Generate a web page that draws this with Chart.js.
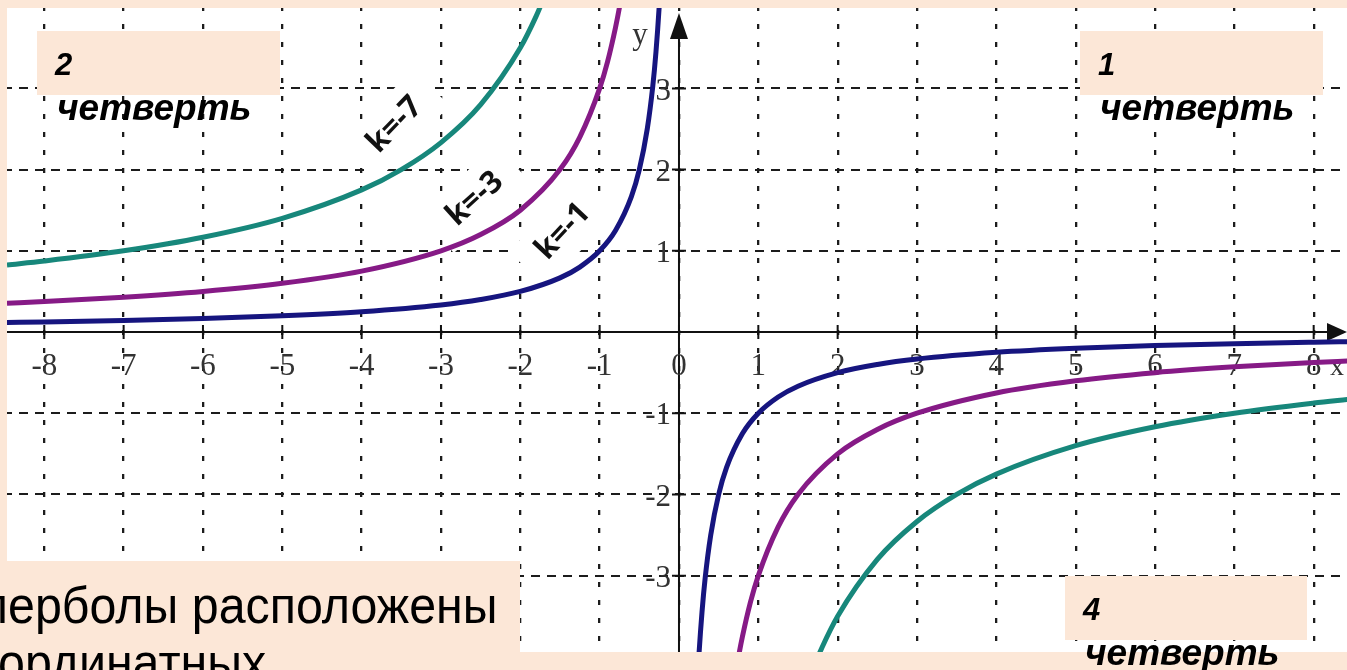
<!DOCTYPE html>
<html>
<head>
<meta charset="utf-8">
<title>y = k/x, k &lt; 0</title>
<script src="https://cdn.jsdelivr.net/npm/chart.js@4.4.0/dist/chart.umd.min.js"></script>
<style>
  html, body { margin: 0; padding: 0; background: #fce7d7; overflow: hidden; }
  canvas { display: block; }
</style>
</head>
<body>
<canvas id="hyperbolas" width="1347" height="670"></canvas>
<script>
// axis ticks
const xTicks = [-8, -7, -6, -5, -4, -3, -2, -1, 0, 1, 2, 3, 4, 5, 6, 7, 8];
const yTicks = [-3, -2, -1, 1, 2, 3];

// k = -1
const k1LeftX  = [-8.47, -8, -7, -6, -5, -4, -3, -2.5, -2, -1.5, -1.25, -1, -0.8, -0.6, -0.5, -0.4, -0.33, -0.29, -0.25, -0.23];
const k1LeftY  = [0.118, 0.125, 0.143, 0.167, 0.2, 0.25, 0.333, 0.4, 0.5, 0.667, 0.8, 1, 1.25, 1.667, 2, 2.5, 3.03, 3.45, 4, 4.35];
const k1RightX = [0.23, 0.25, 0.29, 0.33, 0.4, 0.5, 0.6, 0.8, 1, 1.25, 1.5, 2, 2.5, 3, 4, 5, 6, 7, 8, 8.45];
const k1RightY = [-4.35, -4, -3.45, -3.03, -2.5, -2, -1.667, -1.25, -1, -0.8, -0.667, -0.5, -0.4, -0.333, -0.25, -0.2, -0.167, -0.143, -0.125, -0.118];

// k = -3
const k3LeftX  = [-8.47, -8, -7, -6, -5, -4, -3, -2.5, -2, -1.5, -1.25, -1, -0.9, -0.8, -0.75, -0.7];
const k3LeftY  = [0.354, 0.375, 0.429, 0.5, 0.6, 0.75, 1, 1.2, 1.5, 2, 2.4, 3, 3.33, 3.75, 4, 4.29];
const k3RightX = [0.7, 0.75, 0.8, 0.9, 1, 1.25, 1.5, 2, 2.5, 3, 4, 5, 6, 7, 8, 8.45];
const k3RightY = [-4.29, -4, -3.75, -3.33, -3, -2.4, -2, -1.5, -1.2, -1, -0.75, -0.6, -0.5, -0.429, -0.375, -0.355];

// k = -7
const k7LeftX  = [-8.47, -8, -7, -6, -5, -4, -3.5, -3, -2.5, -2, -1.8, -1.7];
const k7LeftY  = [0.826, 0.875, 1, 1.167, 1.4, 1.75, 2, 2.333, 2.8, 3.5, 3.89, 4.12];
const k7RightX = [1.7, 1.8, 2, 2.5, 3, 3.5, 4, 5, 6, 7, 8, 8.45];
const k7RightY = [-4.12, -3.89, -3.5, -2.8, -2.333, -2, -1.75, -1.4, -1.167, -1, -0.875, -0.828];

const curveLabels = ['k=-7', 'k=-3', 'k=-1'];
const quarterNumbers = ['2', '1', '4'];
const quarterWord = 'четверть';
const captionLines = ['перболы расположены', 'координатных'];

const PEACH = '#fce7d7';
const TEAL = '#17877b';
const PURPLE = '#861a86';
const NAVY = '#16157f';

// label anchors in data units: x, y, angle in degrees
const labelSpots = [[-3.58, 2.55, -46], [-2.57, 1.64, -42], [-1.46, 1.24, -47]];

function pts(xs, ys) {
  return xs.map((x, i) => ({ x: x, y: ys[i] }));
}

function branch(xs, ys, color) {
  return {
    data: pts(xs, ys),
    borderColor: color,
    borderWidth: 5,
    showLine: true,
    pointRadius: 0,
    cubicInterpolationMode: 'monotone'
  };
}

// page background, white plot field, axes with arrows, ticks and numbers
const axesPlugin = {
  id: 'axesPlugin',
  beforeDraw(chart) {
    const { ctx, chartArea: a } = chart;
    ctx.save();
    ctx.fillStyle = PEACH;
    ctx.fillRect(0, 0, chart.width, chart.height);
    ctx.fillStyle = '#ffffff';
    ctx.fillRect(a.left, a.top, a.right - a.left, a.bottom - a.top);
    ctx.restore();
  },
  beforeDatasetsDraw(chart) {
    const { ctx, chartArea: a, scales: { x, y } } = chart;
    const x0 = x.getPixelForValue(0);
    const y0 = y.getPixelForValue(0);
    ctx.save();

    // white patches under the k labels
    ctx.fillStyle = '#ffffff';
    labelSpots.forEach(s => {
      ctx.save();
      ctx.translate(x.getPixelForValue(s[0]), y.getPixelForValue(s[1]));
      ctx.rotate(s[2] * Math.PI / 180);
      ctx.fillRect(-52, -26, 104, 52);
      ctx.restore();
    });

    ctx.strokeStyle = '#111';
    ctx.fillStyle = '#111';
    ctx.lineWidth = 2;
    ctx.beginPath();
    ctx.moveTo(a.left, y0);
    ctx.lineTo(a.right - 12, y0);
    ctx.moveTo(x0, a.bottom);
    ctx.lineTo(x0, a.top + 20);
    ctx.stroke();

    // arrow heads
    ctx.beginPath();
    ctx.moveTo(a.right, y0);
    ctx.lineTo(a.right - 20, y0 - 9);
    ctx.lineTo(a.right - 20, y0 + 9);
    ctx.closePath();
    ctx.fill();
    ctx.beginPath();
    ctx.moveTo(x0, a.top + 5);
    ctx.lineTo(x0 - 9, a.top + 31);
    ctx.lineTo(x0 + 9, a.top + 31);
    ctx.closePath();
    ctx.fill();

    ctx.beginPath();
    xTicks.forEach(v => {
      const px = x.getPixelForValue(v);
      ctx.moveTo(px, y0 - 7);
      ctx.lineTo(px, y0 + 7);
    });
    yTicks.forEach(v => {
      const py = y.getPixelForValue(v);
      ctx.moveTo(x0 - 7, py);
      ctx.lineTo(x0 + 7, py);
    });
    ctx.stroke();

    ctx.fillStyle = '#333';
    ctx.font = '31px "Liberation Serif", "Times New Roman", serif';
    ctx.textAlign = 'center';
    ctx.textBaseline = 'middle';
    xTicks.forEach(v => {
      ctx.fillText(String(v), x.getPixelForValue(v), y0 + 35);
    });
    ctx.textAlign = 'right';
    yTicks.forEach(v => {
      ctx.fillText(String(v), x0 - 8, y.getPixelForValue(v) + 3);
    });
    ctx.textAlign = 'center';
    ctx.fillText('y', x0 - 39, a.top + 28);
    ctx.font = '28px "Liberation Serif", "Times New Roman", serif';
    ctx.fillText('x', a.right - 10, y0 + 36);
    ctx.restore();
  },
  afterDatasetsDraw(chart) {
    const { ctx, scales: { x, y } } = chart;
    ctx.save();
    ctx.fillStyle = '#111';
    ctx.font = 'bold 31px "Open Sans", "Noto Sans", sans-serif';
    ctx.textAlign = 'center';
    ctx.textBaseline = 'middle';
    curveLabels.forEach((t, i) => {
      const s = labelSpots[i];
      ctx.save();
      ctx.translate(x.getPixelForValue(s[0]), y.getPixelForValue(s[1]));
      ctx.rotate(s[2] * Math.PI / 180);
      ctx.fillText(t, 0, 0);
      ctx.restore();
    });
    ctx.restore();
  },
  afterDraw(chart) {
    const { ctx } = chart;
    ctx.save();
    // quarter captions: box, number, word below
    const boxes = [[37, 31, 243, 64], [1080, 31, 243, 64], [1065, 576, 242, 64]];
    ctx.fillStyle = PEACH;
    boxes.forEach(b => ctx.fillRect(b[0], b[1], b[2], b[3]));
    // bottom strip and caption box
    ctx.fillRect(0, 652, chart.width, 18);
    ctx.fillRect(0, 561, 520, 109);

    ctx.fillStyle = '#000';
    ctx.textAlign = 'left';
    ctx.textBaseline = 'alphabetic';
    boxes.forEach((b, i) => {
      ctx.font = 'italic bold 31px "Liberation Sans", Arial, sans-serif';
      ctx.fillText(quarterNumbers[i], b[0] + 18, b[1] + 44);
      ctx.font = 'italic bold 37px "Liberation Sans", Arial, sans-serif';
      ctx.fillText(quarterWord, b[0] + 20, b[1] + 89);
    });

    // caption text, slightly narrowed
    const sx = 0.93;
    ctx.font = '52px "Liberation Sans", Arial, sans-serif';
    ctx.save();
    ctx.scale(sx, 1);
    const cut = ctx.measureText('п').width;
    ctx.fillText(captionLines[0], 8 / sx - cut, 623);
    const cut2 = ctx.measureText('ко').width;
    ctx.fillText(captionLines[1], -2 / sx - cut2, 680);
    ctx.restore();
    ctx.restore();
  }
};

new Chart(document.getElementById('hyperbolas'), {
  type: 'scatter',
  data: {
    datasets: [
      branch(k7LeftX, k7LeftY, TEAL),
      branch(k7RightX, k7RightY, TEAL),
      branch(k3LeftX, k3LeftY, PURPLE),
      branch(k3RightX, k3RightY, PURPLE),
      branch(k1LeftX, k1LeftY, NAVY),
      branch(k1RightX, k1RightY, NAVY)
    ]
  },
  options: {
    responsive: false,
    animation: false,
    layout: { padding: { left: 7, top: 8, right: 0, bottom: 18 } },
    plugins: { legend: { display: false }, tooltip: { enabled: false } },
    scales: {
      x: {
        type: 'linear',
        position: 'bottom',
        min: -8.47,
        max: 8.42,
        ticks: { display: false, stepSize: 1, includeBounds: false },
        grid: { color: '#1c1c1c', lineWidth: 2.3, drawTicks: false },
        border: { display: false, dash: [5, 13], dashOffset: 2 }
      },
      y: {
        type: 'linear',
        position: 'left',
        min: -3.94,
        max: 3.99,
        ticks: { display: false, stepSize: 1, includeBounds: false },
        grid: { color: '#1c1c1c', lineWidth: 2, drawTicks: false },
        border: { display: false, dash: [9, 7], dashOffset: 4 }
      }
    }
  },
  plugins: [axesPlugin]
});
</script>
</body>
</html>
